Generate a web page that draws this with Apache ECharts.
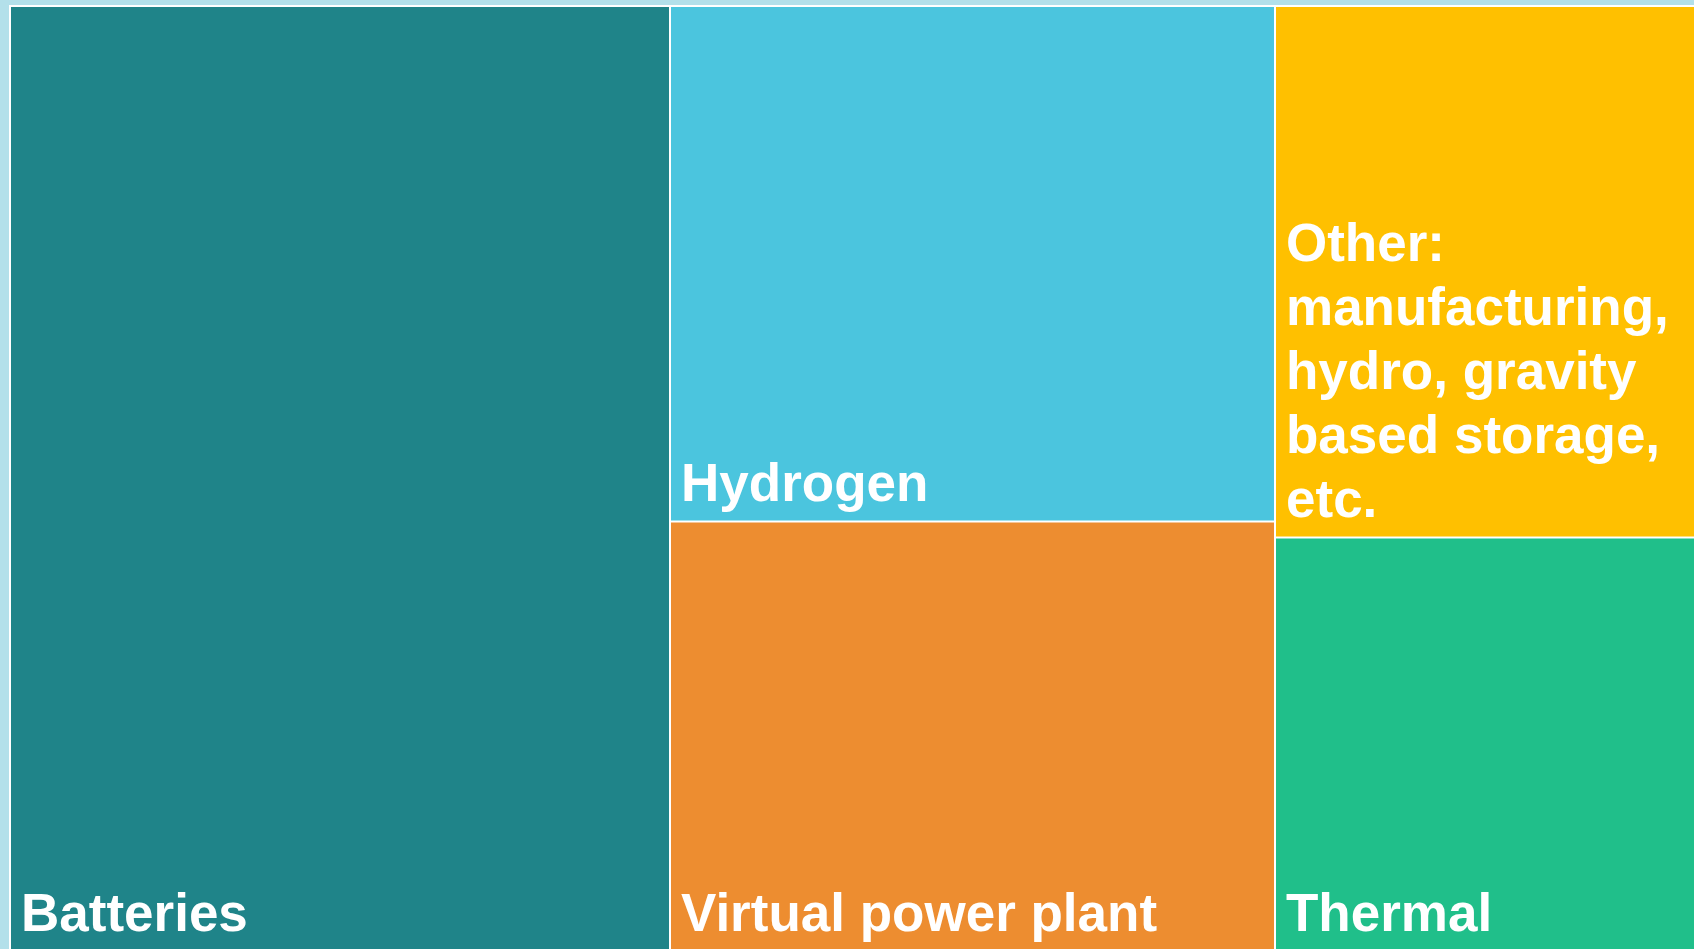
<!DOCTYPE html>
<html>
<head>
<meta charset="utf-8">
<script src="https://cdn.jsdelivr.net/npm/echarts@6/dist/echarts.min.js"></script>
<style>
  html, body { margin: 0; padding: 0; background: #b3e0ea; }
  #chart { width: 1694px; height: 949px; }
</style>
</head>
<body>
<div id="chart"></div>
<script>
// Data (relative sizes)
const categories = ['Batteries', 'Hydrogen', 'Virtual power plant',
  'Other: manufacturing, hydro, gravity based storage, etc.', 'Thermal'];
const values = [24, 12, 10, 9, 7];
const colors = ['#1F8489', '#4BC5DE', '#ED8D30', '#FFC000', '#20BF8A'];

const data = categories.map((name, i) => ({
  name: name,
  value: values[i],
  itemStyle: { color: colors[i] }
}));

const chart = echarts.init(document.getElementById('chart'), null, { renderer: 'canvas' });
chart.setOption({
  backgroundColor: '#b3e0ea',
  animation: false,
  series: [{
    type: 'treemap',
    left: 9,
    top: 5,
    width: 1707,
    height: 947,
    squareRatio: 1,
    roam: false,
    nodeClick: false,
    breadcrumb: { show: false },
    sort: 'desc',
    itemStyle: { borderColor: '#ffffff', borderWidth: 1, gapWidth: 0 },
    upperLabel: { show: false },
    label: {
      show: true,
      position: 'insideBottomLeft',
      distance: 2,
      padding: [0, 0, 0, 8],
      color: '#ffffff',
      fontFamily: 'Liberation Sans, Arial, sans-serif',
      fontWeight: 'bold',
      fontSize: 53,
      lineHeight: 64,
      overflow: 'break'
    },
    data: data
  }]
});
</script>
</body>
</html>
